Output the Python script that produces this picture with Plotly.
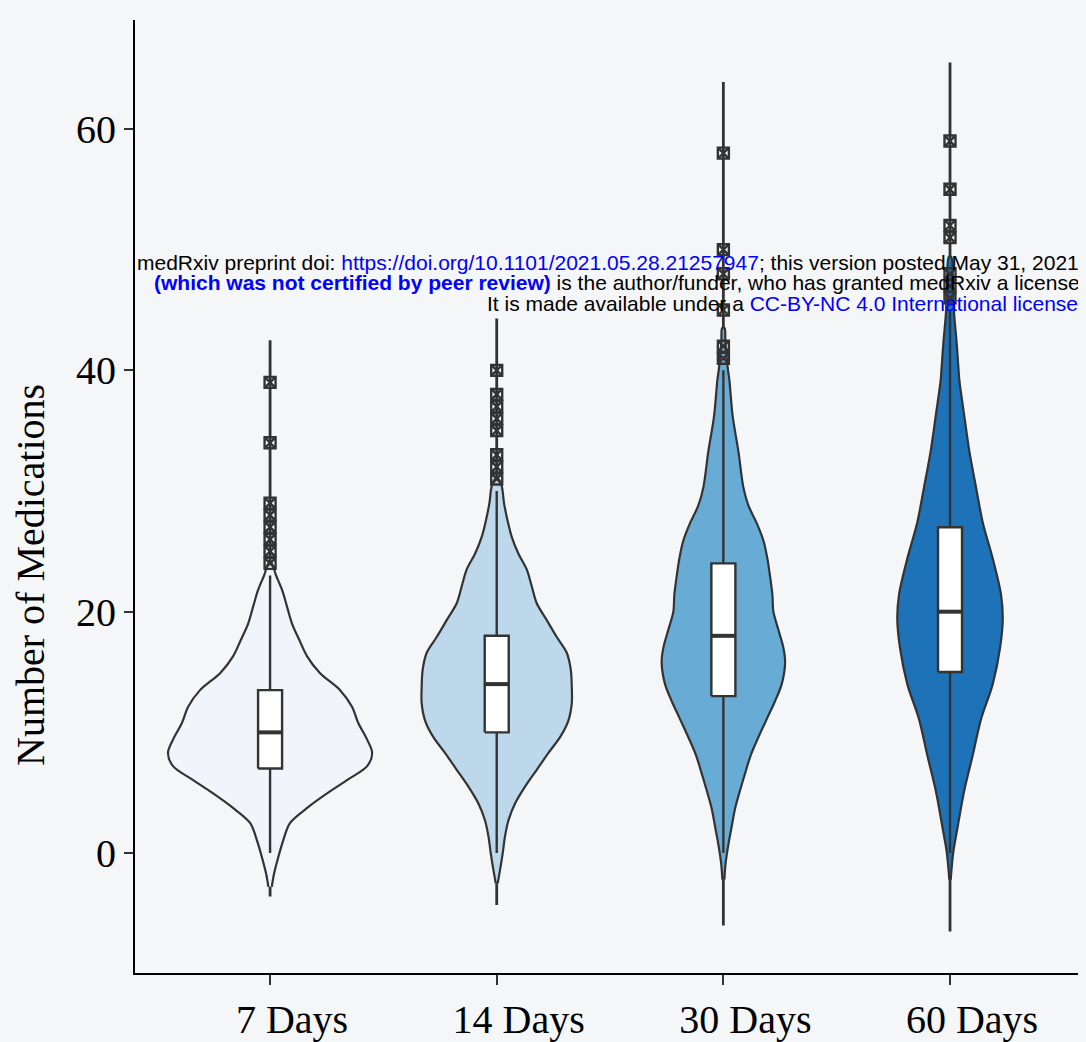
import plotly.graph_objects as go

# categories and box statistics
groups = ["7 Days", "14 Days", "30 Days", "60 Days"]
q1 = [7, 10, 13, 15]
median = [10, 14, 18, 20]
q3 = [13.5, 18, 24, 27]
lower_fence = [0, 0, 0, 0]
upper_fence = [23, 30, 40, 45]

outliers = [
    [24, 25, 26, 27, 28, 29, 34, 39],
    [31, 32, 33, 35, 36, 37, 38, 40],
    [41, 42, 45, 48, 50, 58],
    [46, 47, 48, 51, 52, 55, 59],
]

# violin outlines: value levels and half widths (pixels on the original)
violin_levels = [
    [-2.8, -1.7, -0.3, 1.1, 2.5, 3.8, 5.0, 6.1, 7.2, 8.3, 9.4, 10.8, 12.1, 13.5, 14.9, 16.3, 17.7, 19.0, 20.4, 21.8, 23.0, 24.0],
    [-2.5, -1.4, 0.0, 1.4, 2.7, 4.1, 5.5, 6.9, 8.3, 9.6, 11.0, 12.4, 13.8, 15.2, 16.6, 17.9, 19.3, 20.7, 22.1, 23.5, 24.8, 26.2, 27.6, 29.0, 30.4, 31.0],
    [-2.2, -0.8, 0.7, 2.2, 3.7, 5.2, 6.6, 8.1, 9.6, 11.1, 12.6, 14.0, 15.8, 17.0, 18.5, 20.0, 21.4, 22.9, 24.4, 25.9, 27.4, 28.8, 30.3, 33.3, 36.2, 39.2, 40.1, 42.4, 43.5],
    [-2.2, 0.1, 2.2, 5.2, 8.1, 11.1, 14.0, 17.0, 19.4, 21.4, 24.4, 27.4, 30.3, 33.3, 36.2, 39.2, 40.1, 42.4, 44.8, 47.1, 49.4],
]
violin_halfwidth = [
    [1.7, 4, 8.3, 13.3, 20, 38, 58, 78, 97, 102, 97, 88, 82, 70, 50, 37, 29, 22, 17, 12, 6, 1.5],
    [1, 3.3, 6, 8.3, 11.7, 18.3, 28.3, 40, 51.7, 63.3, 71.7, 75, 75, 74, 70, 60, 50, 40, 35, 30, 21.7, 15, 10.7, 7.3, 5, 1.5],
    [1, 2.3, 5, 8.3, 11.7, 16.7, 21.7, 27.3, 35, 43.3, 51.7, 58.3, 61.7, 60, 55, 50, 49, 46.7, 44, 40, 33, 25, 20, 15, 9.3, 6, 4.5, 2, 1.2],
    [0.7, 3.3, 7.7, 14.3, 22.7, 31, 42.7, 50, 52.7, 51, 42.7, 32.7, 26, 19.3, 14.3, 9.3, 8.5, 6.5, 4, 3, 1.2],
]
tail_low = [-3.6, -4.3, -6.0, -6.5]
tail_high = [42.5, 44.3, 63.9, 65.5]
fills = ["#f1f5fb", "#bcd8ea", "#68acd6", "#1d72b8"]

px_per_cat = 226.5
box_half = 12 / px_per_cat
edge = "#333333"
bg = "#f5f6f8"

fig = go.Figure()

for i, g in enumerate(groups):
    # thin density tails
    fig.add_trace(go.Scatter(
        x=[i, i], y=[tail_low[i], tail_high[i]], mode="lines",
        line=dict(color=edge, width=2.8), hoverinfo="skip", showlegend=False,
    ))
    # violin body
    ys = violin_levels[i]
    ws = [w / px_per_cat for w in violin_halfwidth[i]]
    xs = [i + w for w in ws] + [i - w for w in ws[::-1]]
    yy = ys + ys[::-1]
    fig.add_trace(go.Scatter(
        x=xs, y=yy, mode="lines", fill="toself", fillcolor=fills[i],
        line=dict(color=edge, width=2.2, shape="spline", smoothing=0.9),
        hoverinfo="skip", showlegend=False, name=g,
    ))
    # whisker
    fig.add_trace(go.Scatter(
        x=[i, i], y=[lower_fence[i], upper_fence[i]], mode="lines",
        line=dict(color=edge, width=2.4), hoverinfo="skip", showlegend=False,
    ))
    # box
    fig.add_trace(go.Scatter(
        x=[i - box_half, i + box_half, i + box_half, i - box_half, i - box_half],
        y=[q1[i], q1[i], q3[i], q3[i], q1[i]],
        mode="lines", fill="toself", fillcolor="white",
        line=dict(color=edge, width=2.4), hoverinfo="skip", showlegend=False,
    ))
    # median
    fig.add_trace(go.Scatter(
        x=[i - box_half, i + box_half], y=[median[i], median[i]], mode="lines",
        line=dict(color=edge, width=4), hoverinfo="skip", showlegend=False,
    ))

ox, oy = [], []
for i, vals in enumerate(outliers):
    ox += [i] * len(vals)
    oy += vals
fig.add_trace(go.Scatter(
    x=ox, y=oy, mode="markers",
    marker=dict(symbol="square-x-open", size=11, color=edge, line=dict(width=2.4)),
    showlegend=False,
))

# medRxiv watermark lines
blue = "#0000ff"
lines = [
    ("medRxiv preprint doi: <span style='color:%s'>https://doi.org/10.1101/2021.05.28.21257947</span>; "
     "this version posted May 31, 2021. The copyright holder for this preprint" % blue, 135, 262),
    ("<span style='color:%s'><b>(which was not certified by peer review)</b></span> is the author/funder, "
     "who has granted medRxiv a license to display the preprint in perpetuity." % blue, 152, 282),
    ("It is made available under a <span style='color:%s'>CC-BY-NC 4.0 International license</span> ." % blue, 485, 303),
]
for txt, px, py in lines:
    fig.add_annotation(
        text=txt, xref="paper", yref="paper",
        x=(px - 135) / 951, y=(973 - py) / 953,
        xanchor="left", yanchor="middle", showarrow=False,
        font=dict(family="Liberation Sans, Arial", size=21, color="black"),
    )

axis_font = dict(family="Liberation Serif, Times New Roman, serif", size=40, color="black")

fig.add_annotation(
    text="Number of Medications", xref="paper", yref="paper",
    x=(30 - 135) / 951, y=(973 - 575) / 953, textangle=-90,
    xanchor="center", yanchor="middle", showarrow=False, font=axis_font,
)

fig.update_layout(
    width=1078, height=1034,
    margin=dict(l=127, r=0, t=12, b=69),
    paper_bgcolor=bg, plot_bgcolor=bg,
    font=axis_font,
    xaxis=dict(
        range=[-0.596, 3.6], tickvals=list(range(len(groups))), ticktext=groups,
        showgrid=False, zeroline=False, showline=True, linecolor="black", linewidth=2,
        ticks="outside", ticklen=10, tickwidth=2, tickcolor="#333333",
        tickfont=axis_font, ticklabelshift=22, automargin=False,
    ),
    yaxis=dict(
        range=[-9.94, 69.03], tickvals=[0, 20, 40, 60],
        showgrid=False, zeroline=False, showline=True, linecolor="black", linewidth=2,
        ticks="outside", ticklen=9, tickwidth=2, tickcolor="#333333",
        tickfont=axis_font, automargin=False,
    ),
)

# page background matches the figure so no white frame shows round it
page_bg = ("document.body.style.background='%s';"
           "document.documentElement.style.background='%s';" % (bg, bg))
fig.write_html("out.html", post_script=page_bg)
